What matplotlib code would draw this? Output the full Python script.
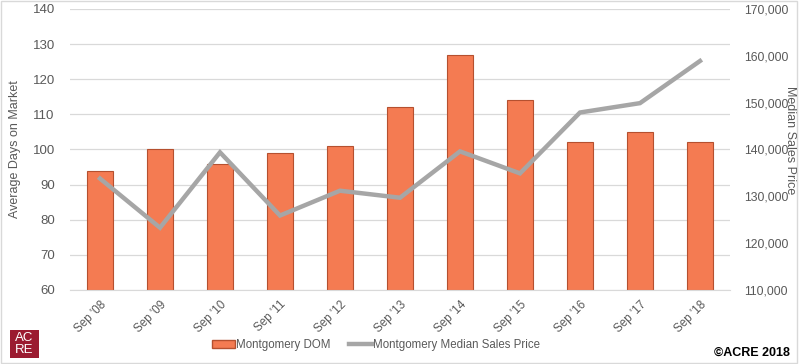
import matplotlib
matplotlib.use("Agg")
import matplotlib.pyplot as plt
from matplotlib.patches import Rectangle
from matplotlib.lines import Line2D
from matplotlib.ticker import FuncFormatter

categories = ["Sep '08", "Sep '09", "Sep '10", "Sep '11", "Sep '12", "Sep '13",
              "Sep '14", "Sep '15", "Sep '16", "Sep '17", "Sep '18"]
dom = [94, 100, 96, 99, 101, 112, 127, 114, 102, 105, 102]
median_price = [133800, 123300, 139400, 125900, 131200, 129700,
                139600, 134900, 147900, 149900, 158900]

plt.rcParams['font.family'] = ['Liberation Sans', 'DejaVu Sans']
txt = '#595959'

fig = plt.figure(figsize=(7.99, 3.64), dpi=100)
ax = fig.add_axes([70/799, 1-290/364, 660/799, 281/364])
x = list(range(len(categories)))
ax.bar(x, [d - 60 for d in dom], bottom=60, width=0.42, color='#F47B52',
       edgecolor='#B5502F', linewidth=0.8, zorder=2)
ax.set_ylim(60, 140)
ax.set_xlim(-0.5, len(categories) - 0.5)
ax.set_yticks(range(60, 141, 10))
ax.yaxis.grid(True, color='#D9D9D9', linewidth=0.9, zorder=0)
ax.set_axisbelow(True)
for s in ['top', 'left', 'right']:
    ax.spines[s].set_visible(False)
ax.spines['bottom'].set_color('#D9D9D9')
ax.tick_params(axis='y', length=0, labelcolor=txt, labelsize=9.5, pad=11)
ax.tick_params(axis='x', length=0, labelcolor=txt, labelsize=8.5, pad=6)
ax.set_xticks(x)
ax.set_xticklabels(categories, rotation=45, ha='right', rotation_mode='anchor')
ax.set_ylabel('Average Days on Market', color=txt, fontsize=9, labelpad=8)

ax2 = ax.twinx()
ax2.plot(x, median_price, color='#A6A6A6', linewidth=3.2, zorder=3,
         solid_joinstyle='miter')
ax2.set_ylim(110000, 170000)
ax2.set_yticks(range(110000, 170001, 10000))
ax2.yaxis.set_major_formatter(FuncFormatter(lambda v, p: f"{int(v):,}"))
for s in ['top', 'left', 'right', 'bottom']:
    ax2.spines[s].set_visible(False)
ax2.tick_params(axis='y', length=0, labelcolor=txt, labelsize=8.8, pad=10)
fig.text(790/799, 1-140/364, 'Median Sales Price', rotation=-90, color=txt,
         fontsize=9, ha='center', va='center')

# legend
handles = [Rectangle((0, 0), 1, 1, facecolor='#F47B52', edgecolor='#B5502F'),
           Line2D([0], [0], color='#A6A6A6', linewidth=3.2)]
fig.legend(handles, ['Montgomery DOM', 'Montgomery Median Sales Price'],
           loc='center', bbox_to_anchor=(376/799, 1-345/364), ncol=2,
           frameon=False, fontsize=8.3, labelcolor=txt, handlelength=2.0,
           handletextpad=0.1, columnspacing=1.6, handleheight=0.6)

fig.text(790/799, 1-353/364, '\u00a9ACRE 2018', fontsize=9, fontweight='bold',
         ha='right', va='center', color='black')

# logo
lax = fig.add_axes([10/799, 1-358/364, 29/799, 28/364])
lax.set_xlim(0, 1); lax.set_ylim(0, 1)
lax.add_patch(Rectangle((0, 0), 1, 1, color='#9B1B30'))
lax.text(0.5, 0.72, 'AC', color='white', fontsize=9.5, ha='center', va='center')
lax.text(0.5, 0.28, 'RE', color='white', fontsize=9.5, ha='center', va='center')
lax.axis('off')

# figure border
fig.patches.append(Rectangle((0.001, 0.002), 0.997, 0.996, transform=fig.transFigure,
                             fill=False, edgecolor='#D9D9D9', linewidth=1))

fig.savefig('out.png', dpi=100)
